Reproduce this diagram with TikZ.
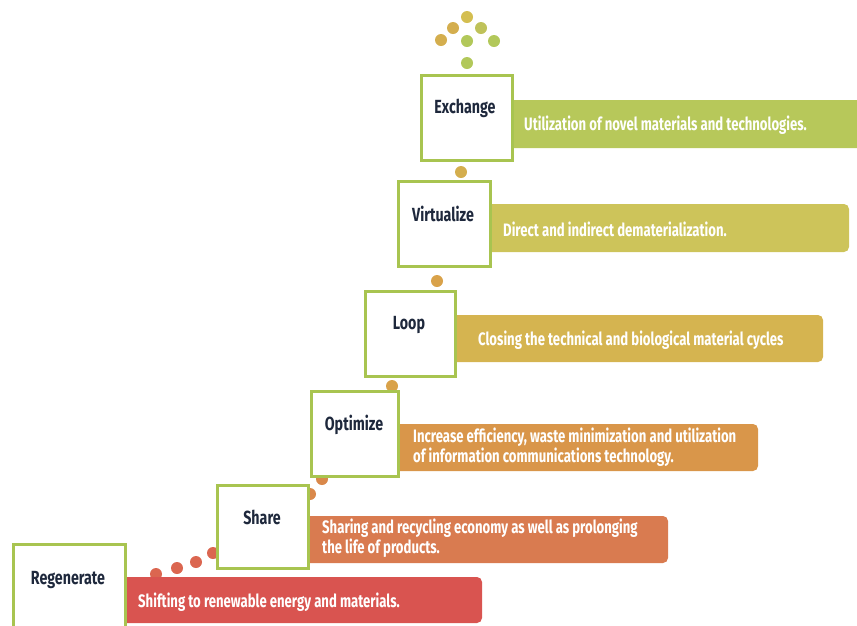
\documentclass[tikz,border=0pt]{standalone}
\usepackage{fontspec}
\setmainfont{Fira Sans}
\newfontfamily\condfont[FakeStretch=0.73]{Fira Sans}
\newfontfamily\titlefont[FakeStretch=0.75]{Fira Sans}
\definecolor{boxgreen}{HTML}{A8C450}
\definecolor{titleblue}{HTML}{1E283C}
\definecolor{cRegen}{HTML}{D95450}
\definecolor{cShare}{HTML}{D97B50}
\definecolor{cOpt}{HTML}{D9964A}
\definecolor{cLoop}{HTML}{D5B450}
\definecolor{cVirt}{HTML}{CDC45A}
\definecolor{cExch}{HTML}{B7C85A}
\definecolor{dRed}{HTML}{DB6650}
\definecolor{dOrange}{HTML}{D9884A}
\definecolor{dGold}{HTML}{D9A24A}
\definecolor{dGold2}{HTML}{D4AE4E}
\definecolor{dYel}{HTML}{D4BE50}
\definecolor{dLime}{HTML}{BFC25A}
\definecolor{dGreen}{HTML}{B2C85A}
\begin{document}
\begin{tikzpicture}[x=1pt,y=-1pt,
  stepbox/.style={draw=boxgreen, line width=3pt, fill=white, minimum width=#1, minimum height=85, inner sep=0pt},
  steptitle/.style={font=\titlefont\bfseries\fontsize{19}{21}\selectfont, text=titleblue, inner sep=0pt},
  bar/.style={fill=#1, rounded corners=5pt},
  bartext/.style={font=\condfont\bfseries\fontsize{18}{20.5}\selectfont, text=white, anchor=west, align=left, inner sep=0pt},
  dot/.style={circle, fill=#1, minimum size=12, inner sep=0pt}]
\useasboundingbox (0,0) rectangle (857,625);

% dots
\node[dot=dRed] (d1) at (156,574) {};
\node[dot=dRed] (d2) at (177,568) {};
\node[dot=dRed] (d3) at (196,562) {};
\node[dot=dRed] (d4) at (213,553) {};
\node[dot=dOrange] (d5) at (310,494) {};
\node[dot=dOrange] (d6) at (322,479) {};
\node[dot=dGold] (d7) at (392,386) {};
\node[dot=dGold] (d8) at (437,281) {};
\node[dot=dGold2] (d9) at (461,172) {};
\node[dot=dGreen] (t0) at (467,63) {};
\node[dot=dGreen] (t1) at (467,41) {};
\node[dot=dGreen] (t2) at (494,41) {};
\node[dot=dGold2] (t3) at (441,40) {};
\node[dot=dGold2] (t4) at (453,28) {};
\node[dot=dLime] (t5) at (481,28) {};
\node[dot=dYel] (t6) at (467,17) {};

% bars
\fill[bar=cRegen] (69,577) rectangle (482,623);
\fill[bar=cShare] (262,516) rectangle (668,563);
\fill[bar=cOpt] (354,424) rectangle (758,471);
\fill[bar=cLoop] (410,315) rectangle (823,362);
\fill[bar=cVirt] (444,204) rectangle (849,252);
\fill[bar=cExch] (466,100) rectangle (880,148);

% bar texts
\node[bartext] (tx1) at (138,602) {Shifting to renewable energy and materials.};
\node[bartext] (tx2) at (322,538) {Sharing and recycling economy as well as prolonging\\the life of products.};
\node[bartext] (tx3) at (413,447) {Increase efficiency, waste minimization and utilization\\of information communications technology.};
\node[bartext] (tx4) at (478,340) {Closing the technical and biological material cycles};
\node[bartext] (tx5) at (503,229) {Direct and indirect dematerialization.};
\node[bartext] (tx6) at (524,125) {Utilization of novel materials and technologies.};

% boxes
\node[stepbox=112, minimum height=95] (regen) at (69,592) {};
\node[stepbox=91, minimum height=83] (share) at (262.5,526.5) {};
\node[stepbox=87] (opt) at (354.5,433.5) {};
\node[stepbox=90] (loop) at (410,333.5) {};
\node[stepbox=92] (virt) at (444,223.5) {};
\node[stepbox=91] (exch) at (466.5,117.5) {};

% titles
\node[steptitle] (ti1) at (68,580) {Regenerate};
\node[steptitle] (ti2) at (262,517) {Share};
\node[steptitle] (ti3) at (354,425) {Optimize};
\node[steptitle] (ti4) at (409,325) {Loop};
\node[steptitle] (ti5) at (443,214) {Virtualize};
\node[steptitle] (ti6) at (465,108) {Exchange};
\end{tikzpicture}
\end{document}
